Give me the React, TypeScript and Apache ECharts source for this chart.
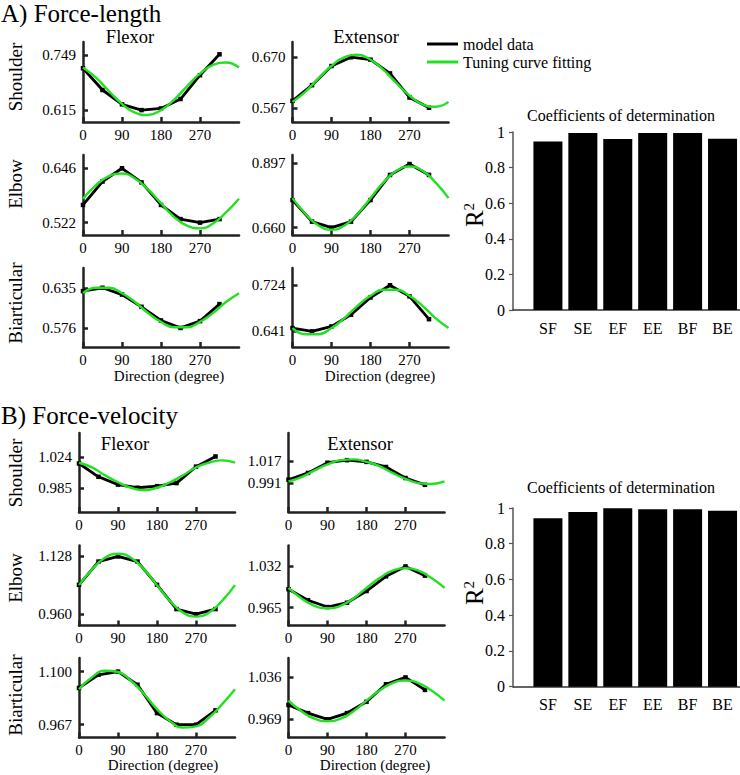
import React, { useEffect, useRef } from 'react';
import * as echarts from 'echarts';

const FONT = '"Liberation Serif", "Times New Roman", serif';
const GREEN = '#22e022';

// ---- data ----
const MODEL_ANGLES = [0, 45, 90, 135, 180, 225, 270, 315];
const FIT_ANGLES = [0, 30, 60, 90, 120, 150, 180, 210, 240, 270, 300, 330, 360];
const X_TICKS = [0, 90, 180, 270];

// A) Force-length
const A_FLEX_SHOULDER_MODEL = [0.717, 0.664, 0.629, 0.615, 0.619, 0.642, 0.7, 0.751];
const A_FLEX_SHOULDER_FIT = [0.719, 0.694, 0.661, 0.63, 0.609, 0.603, 0.615, 0.64, 0.673, 0.704, 0.725, 0.731, 0.719];
const A_FLEX_SHOULDER_TICKS = [0.615, 0.749];
const A_EXT_SHOULDER_MODEL = [0.581, 0.613, 0.652, 0.67, 0.665, 0.637, 0.588, 0.567];
const A_EXT_SHOULDER_FIT = [0.579, 0.6, 0.627, 0.652, 0.67, 0.675, 0.665, 0.644, 0.617, 0.592, 0.574, 0.569, 0.579];
const A_EXT_SHOULDER_TICKS = [0.567, 0.67];
const A_FLEX_ELBOW_MODEL = [0.562, 0.615, 0.645, 0.613, 0.562, 0.53, 0.522, 0.53];
const A_FLEX_ELBOW_FIT = [0.576, 0.607, 0.627, 0.633, 0.622, 0.597, 0.566, 0.535, 0.515, 0.509, 0.52, 0.545, 0.576];
const A_FLEX_ELBOW_TICKS = [0.522, 0.646];
const A_EXT_ELBOW_MODEL = [0.761, 0.682, 0.66, 0.682, 0.761, 0.853, 0.893, 0.853];
const A_EXT_ELBOW_FIT = [0.768, 0.71, 0.668, 0.652, 0.668, 0.71, 0.768, 0.826, 0.868, 0.884, 0.868, 0.826, 0.768];
const A_EXT_ELBOW_TICKS = [0.66, 0.897];
const A_FLEX_BIART_MODEL = [0.63, 0.635, 0.625, 0.607, 0.587, 0.576, 0.586, 0.611];
const A_FLEX_BIART_FIT = [0.627, 0.635, 0.635, 0.627, 0.614, 0.598, 0.585, 0.577, 0.577, 0.585, 0.598, 0.614, 0.627];
const A_FLEX_BIART_TICKS = [0.576, 0.635];
const A_EXT_BIART_MODEL = [0.647, 0.641, 0.65, 0.671, 0.702, 0.724, 0.704, 0.663];
const A_EXT_BIART_FIT = [0.647, 0.636, 0.636, 0.647, 0.665, 0.687, 0.705, 0.716, 0.716, 0.705, 0.687, 0.665, 0.647];
const A_EXT_BIART_TICKS = [0.641, 0.724];

// B) Force-velocity
const B_FLEX_SHOULDER_MODEL = [1.016, 0.999, 0.989, 0.985, 0.987, 0.991, 1.012, 1.025];
const B_FLEX_SHOULDER_FIT = [1.017, 1.011, 1.001, 0.992, 0.985, 0.982, 0.985, 0.992, 1.001, 1.011, 1.017, 1.02, 1.017];
const B_FLEX_SHOULDER_TICKS = [0.985, 1.024];
const B_EXT_SHOULDER_MODEL = [0.995, 1.003, 1.015, 1.018, 1.016, 1.01, 0.997, 0.989];
const B_EXT_SHOULDER_FIT = [0.993, 0.998, 1.006, 1.013, 1.018, 1.019, 1.016, 1.011, 1.003, 0.996, 0.991, 0.99, 0.993];
const B_EXT_SHOULDER_TICKS = [0.991, 1.017];
const B_FLEX_ELBOW_MODEL = [1.045, 1.113, 1.128, 1.113, 1.045, 0.974, 0.959, 0.974];
const B_FLEX_ELBOW_FIT = [1.044, 1.09, 1.124, 1.136, 1.124, 1.09, 1.044, 0.998, 0.964, 0.952, 0.964, 0.998, 1.044];
const B_FLEX_ELBOW_TICKS = [0.96, 1.128];
const B_EXT_ELBOW_MODEL = [0.995, 0.977, 0.966, 0.973, 0.992, 1.016, 1.032, 1.017];
const B_EXT_ELBOW_FIT = [0.997, 0.98, 0.968, 0.964, 0.968, 0.98, 0.997, 1.013, 1.025, 1.029, 1.025, 1.013, 0.997];
const B_EXT_ELBOW_TICKS = [0.965, 1.032];
const B_FLEX_BIART_MODEL = [1.059, 1.092, 1.1, 1.067, 0.996, 0.967, 0.967, 1.003];
const B_FLEX_BIART_FIT = [1.056, 1.086, 1.102, 1.099, 1.077, 1.044, 1.006, 0.976, 0.96, 0.963, 0.985, 1.018, 1.056];
const B_FLEX_BIART_TICKS = [0.967, 1.1];
const B_EXT_BIART_MODEL = [0.992, 0.979, 0.969, 0.979, 0.997, 1.025, 1.036, 1.016];
const B_EXT_BIART_FIT = [0.999, 0.982, 0.97, 0.966, 0.97, 0.982, 0.999, 1.015, 1.027, 1.031, 1.027, 1.015, 0.999];
const B_EXT_BIART_TICKS = [0.969, 1.036];

// Coefficients of determination
const R2_CATEGORIES = ['SF', 'SE', 'EF', 'EE', 'BF', 'BE'];
const R2_FORCE_LENGTH = [0.946, 0.995, 0.96, 0.995, 0.995, 0.962];
const R2_FORCE_VELOCITY = [0.942, 0.978, 0.998, 0.993, 0.993, 0.985];
const R2_TICKS = [0, 0.2, 0.4, 0.6, 0.8, 1];

// ---- layout ----
const PANELS = [
  { model: A_FLEX_SHOULDER_MODEL, fit: A_FLEX_SHOULDER_FIT, ticks: A_FLEX_SHOULDER_TICKS, min: 0.586, max: 0.781, left: 83, top: 42, height: 80 },
  { model: A_EXT_SHOULDER_MODEL, fit: A_EXT_SHOULDER_FIT, ticks: A_EXT_SHOULDER_TICKS, min: 0.538, max: 0.701, left: 292.5, top: 42, height: 80 },
  { model: A_FLEX_ELBOW_MODEL, fit: A_FLEX_ELBOW_FIT, ticks: A_FLEX_ELBOW_TICKS, min: 0.494, max: 0.675, left: 83, top: 155, height: 80 },
  { model: A_EXT_ELBOW_MODEL, fit: A_EXT_ELBOW_FIT, ticks: A_EXT_ELBOW_TICKS, min: 0.633, max: 0.926, left: 292.5, top: 155, height: 80 },
  { model: A_FLEX_BIART_MODEL, fit: A_FLEX_BIART_FIT, ticks: A_FLEX_BIART_TICKS, min: 0.548, max: 0.664, left: 83, top: 268, height: 79 },
  { model: A_EXT_BIART_MODEL, fit: A_EXT_BIART_FIT, ticks: A_EXT_BIART_TICKS, min: 0.613, max: 0.755, left: 292.5, top: 268, height: 79 },
  { model: B_FLEX_SHOULDER_MODEL, fit: B_FLEX_SHOULDER_FIT, ticks: B_FLEX_SHOULDER_TICKS, min: 0.954, max: 1.055, left: 79, top: 433, height: 79 },
  { model: B_EXT_SHOULDER_MODEL, fit: B_EXT_SHOULDER_FIT, ticks: B_EXT_SHOULDER_TICKS, min: 0.957, max: 1.05, left: 288.5, top: 433, height: 79 },
  { model: B_FLEX_ELBOW_MODEL, fit: B_FLEX_ELBOW_FIT, ticks: B_FLEX_ELBOW_TICKS, min: 0.926, max: 1.16, left: 79, top: 545.5, height: 80 },
  { model: B_EXT_ELBOW_MODEL, fit: B_EXT_ELBOW_FIT, ticks: B_EXT_ELBOW_TICKS, min: 0.936, max: 1.066, left: 288.5, top: 545.5, height: 80 },
  { model: B_FLEX_BIART_MODEL, fit: B_FLEX_BIART_FIT, ticks: B_FLEX_BIART_TICKS, min: 0.935, max: 1.134, left: 79, top: 658, height: 79.5 },
  { model: B_EXT_BIART_MODEL, fit: B_EXT_BIART_FIT, ticks: B_EXT_BIART_TICKS, min: 0.94, max: 1.067, left: 288.5, top: 658, height: 79.5 },
];
const PANEL_WIDTH = 156;

const BARS = [
  { values: R2_FORCE_LENGTH, top: 132, height: 178, titleY: 115, rY: 215 },
  { values: R2_FORCE_VELOCITY, top: 508, height: 178.7, titleY: 487, rY: 593 },
];

function buildOption() {
  const grid: any[] = [];
  const xAxis: any[] = [];
  const yAxis: any[] = [];
  const series: any[] = [];
  const axisColor = '#222';

  PANELS.forEach((p, i) => {
    grid.push({ left: p.left, top: p.top, width: PANEL_WIDTH, height: p.height, outerBoundsMode: 'none' });
    xAxis.push({
      type: 'value', gridIndex: i, min: 0, max: 360,
      splitLine: { show: false },
      axisLine: { lineStyle: { color: axisColor, width: 2.5 } },
      axisTick: { inside: true, length: 5, customValues: X_TICKS, lineStyle: { color: axisColor, width: 2.5 } },
      axisLabel: { customValues: X_TICKS, margin: 5, fontSize: 15, fontFamily: FONT, color: '#000' },
    });
    yAxis.push({
      type: 'value', gridIndex: i, min: p.min, max: p.max,
      splitLine: { show: false },
      axisLine: { lineStyle: { color: axisColor, width: 2.5 } },
      axisTick: { inside: true, length: 5, customValues: p.ticks, lineStyle: { color: axisColor, width: 2.5 } },
      axisLabel: { customValues: p.ticks, margin: 7, fontSize: 15, fontFamily: FONT, color: '#000', formatter: (v: number) => v.toFixed(3) },
    });
    series.push({
      name: 'model data', type: 'line', xAxisIndex: i, yAxisIndex: i,
      data: MODEL_ANGLES.map((a, k) => [a, p.model[k]]),
      lineStyle: { color: '#000', width: 2.8 }, itemStyle: { color: '#000' },
      symbol: 'rect', symbolSize: 4.5, z: 2,
    });
    series.push({
      name: 'Tuning curve fitting', type: 'line', xAxisIndex: i, yAxisIndex: i,
      data: FIT_ANGLES.map((a, k) => [a, p.fit[k]]),
      smooth: 0.5, showSymbol: false, symbol: 'none',
      lineStyle: { color: GREEN, width: 2.4 }, itemStyle: { color: GREEN }, z: 3,
    });
  });

  BARS.forEach((b, j) => {
    const gi = PANELS.length + j;
    grid.push({ left: 513, top: b.top, width: 227, height: b.height, outerBoundsMode: 'none' });
    xAxis.push({
      type: 'value', gridIndex: gi, min: 0, max: 6.5,
      splitLine: { show: false },
      axisLine: { lineStyle: { color: '#333', width: 1.5 } },
      axisTick: { show: false },
      axisLabel: {
        customValues: [1, 2, 3, 4, 5, 6], margin: 10, fontSize: 16, fontFamily: FONT, color: '#000',
        formatter: (v: number) => R2_CATEGORIES[Math.round(v) - 1] || '',
      },
    });
    yAxis.push({
      type: 'value', gridIndex: gi, min: 0, max: 1, interval: 0.2,
      splitLine: { show: false },
      axisLine: { lineStyle: { color: '#555', width: 1.5 } },
      axisTick: { show: true, length: 4, customValues: R2_TICKS, lineStyle: { color: '#555', width: 1.2 } },
      axisLabel: { customValues: R2_TICKS, margin: 8, fontSize: 16, fontFamily: FONT, color: '#000' },
    });
    series.push({
      name: 'R2 ' + j, type: 'bar', xAxisIndex: gi, yAxisIndex: gi,
      data: b.values.map((v, k) => [k + 1, v]),
      barWidth: 29, itemStyle: { color: '#000' },
    });
  });

  const txt = (text: string, x: number, y: number, size: number, opts: any = {}) => ({
    type: 'text', x, y, rotation: opts.rotation || 0,
    style: {
      text, x: 0, y: 0, fill: '#000', fontFamily: FONT, fontSize: size,
      align: opts.align || 'center', verticalAlign: 'middle', rich: opts.rich,
    },
  });
  const R = Math.PI / 2;
  const graphic: any[] = [
    txt('A) Force-length', 1, 13, 25, { align: 'left' }),
    txt('B) Force-velocity', 1, 415, 25, { align: 'left' }),
    txt('Flexor', 130, 37, 18.5),
    txt('Extensor', 366, 37, 18.5),
    txt('Flexor', 125, 444, 18.5),
    txt('Extensor', 360, 444, 18.5),
    txt('Shoulder', 15, 77, 19, { rotation: R }),
    txt('Elbow', 15, 184, 19, { rotation: R }),
    txt('Biarticular', 15, 303, 19, { rotation: R }),
    txt('Shoulder', 15, 473, 19, { rotation: R }),
    txt('Elbow', 15, 578, 19, { rotation: R }),
    txt('Biarticular', 15, 695, 19, { rotation: R }),
    txt('Direction (degree)', 169, 376, 15),
    txt('Direction (degree)', 380, 376, 15),
    txt('Direction (degree)', 163, 765, 15),
    txt('Direction (degree)', 375, 765, 15),
  ];
  BARS.forEach((b) => {
    graphic.push(txt('Coefficients of determination', 621, b.titleY, 16));
    graphic.push(txt('R{s|2}', 474, b.rY, 25, {
      rotation: R,
      rich: { s: { fontSize: 15, fontFamily: FONT, fill: '#000', verticalAlign: 'top', padding: [0, 0, 10, 0] } },
    }));
  });

  return {
    animation: false,
    backgroundColor: '#fff',
    legend: {
      data: ['model data', 'Tuning curve fitting'],
      orient: 'vertical', left: 422, top: 31,
      icon: 'rect', itemWidth: 31, itemHeight: 3, itemGap: 2,
      selectedMode: false,
      textStyle: { fontSize: 16, fontFamily: FONT, color: '#000' },
    },
    grid, xAxis, yAxis, series, graphic,
  };
}

export default function App() {
  const ref = useRef<HTMLDivElement>(null);
  useEffect(() => {
    if (!ref.current) return;
    const chart = echarts.init(ref.current, undefined, { renderer: 'svg' });
    chart.setOption(buildOption() as any);
    return () => chart.dispose();
  }, []);
  return <div ref={ref} style={{ position: 'absolute', left: 0, top: 0, width: 740, height: 775 }} />;
}
